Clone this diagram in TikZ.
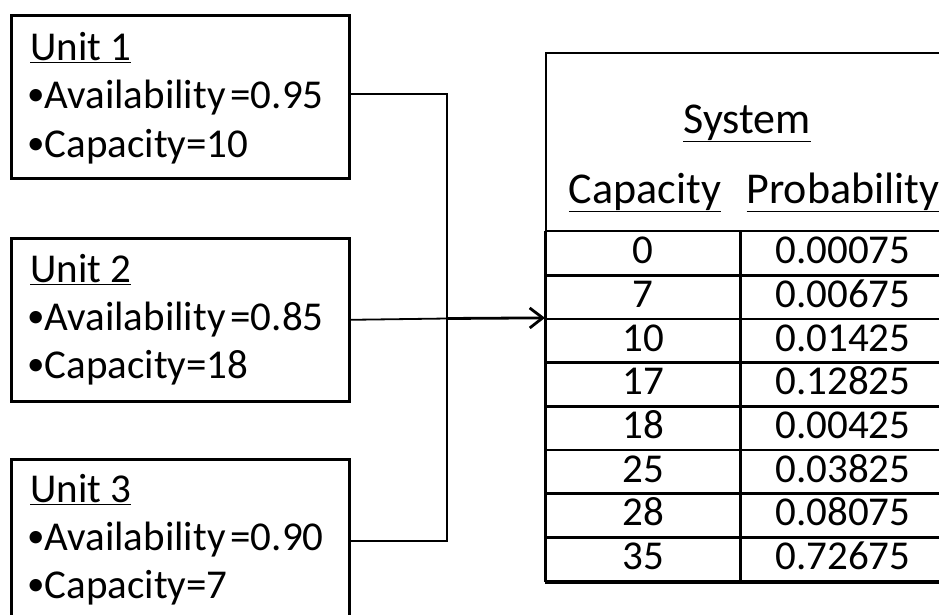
\documentclass[tikz,border=0pt]{standalone}
\usepackage{fontspec}
\setmainfont{Carlito}
\usetikzlibrary{arrows.meta}
\begin{document}
\begin{tikzpicture}[x=1pt,y=-1pt,
  unitbox/.style={draw,line width=2.6pt,minimum width=338pt,minimum height=163pt,
    anchor=north west,inner sep=0pt},
  txt/.style={anchor=base west,inner sep=0pt,font=\fontsize{41}{43}\selectfont},
  cell/.style={anchor=base,inner sep=0pt,font=\fontsize{41}{43}\selectfont},
  head/.style={anchor=base,inner sep=0pt,font=\fontsize{44}{46}\selectfont},
  wire/.style={line width=1.8pt},
  feed/.style={line width=2.8pt,-{Straight Barb[length=13pt,width=20pt]}},
  thinrule/.style={line width=1.4pt},
  thickrule/.style={line width=3pt}]
\useasboundingbox (0,0) rectangle (939,614);
\clip (0,0) rectangle (939,614);

% generating units
\node[unitbox] (u1) at (10,14) {};
\node[unitbox] (u2) at (10,237) {};
\node[unitbox] (u3) at (10,458) {};

\newcommand\bul{\raisebox{3pt}{\fontsize{35}{35}\selectfont•}}
\newcommand\avail[1]{{\spaceskip=5pt\relax \bul Availability =#1}}

\node[txt] (u1a) at (30,60)  {\underline{Unit 1}};
\node[txt] (u1b) at (27,108) {\avail{0.95}};
\node[txt] (u1c) at (27,157) {\bul Capacity=10};

\node[txt] (u2a) at (30,282) {\underline{Unit 2}};
\node[txt] (u2b) at (27,330) {\avail{0.85}};
\node[txt] (u2c) at (27,378) {\bul Capacity=18};

\node[txt] (u3a) at (30,502) {\underline{Unit 3}};
\node[txt] (u3b) at (27,550) {\avail{0.90}};
\node[txt] (u3c) at (27,598) {\bul Capacity=7};

% system capacity table
\node[draw,line width=1.7pt,minimum width=401pt,minimum height=530pt,
  anchor=north west,inner sep=0pt] (sys) at (545,52) {};
\node[head] (st) at (747,133) {\underline{System}};
\node[head] (hc) at (645,203) {\underline{Capacity}};
\node[head] (hp) at (843,203) {\underline{Probability}};

\draw[thickrule] (545,231) -- (545,582);
\draw[thickrule] (740,231) -- (740,582);
\foreach \yy/\st in {231/thinrule,275/thickrule,319/thinrule,362/thickrule,
  406/thickrule,450/thinrule,493/thickrule,537/thickrule,581/thinrule}
  \draw[\st] (545,\yy) -- (946,\yy);

\foreach \yy/\cap/\pr [count=\i] in {263/0/0.00075,307/7/0.00675,351/10/0.01425,
  394/17/0.12825,438/18/0.00425,482/25/0.03825,525/28/0.08075,569/35/0.72675}{
  \node[cell] (c\i) at (643,\yy) {\cap};
  \node[cell] (p\i) at (843,\yy) {\pr};
}

% connectors
\coordinate (jn) at (447,318.5);
\draw[wire] ([yshift=2.5pt]u1.east) -| (jn);
\draw[wire] (u3.east) -| (jn);
\draw[wire] (u2.east) -- (jn);
\draw[feed] (jn) -- (sys.west);
\end{tikzpicture}
\end{document}
